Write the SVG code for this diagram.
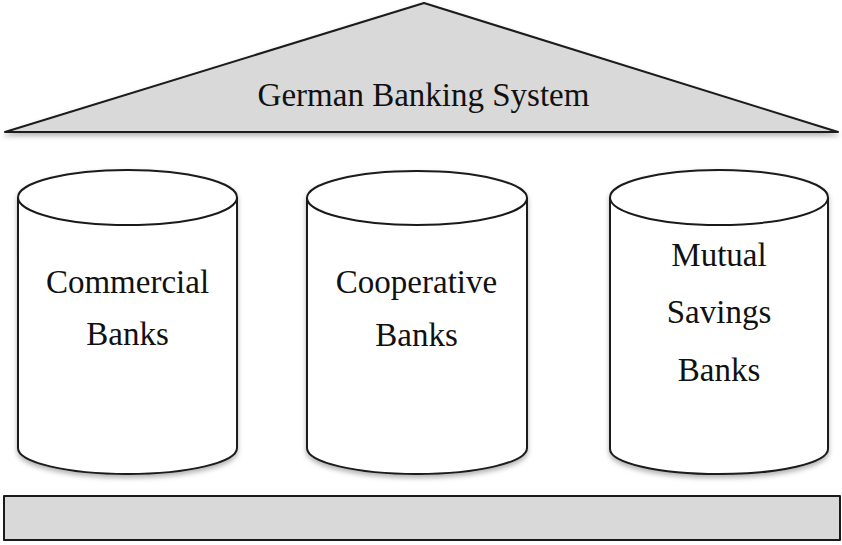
<svg xmlns="http://www.w3.org/2000/svg" width="842" height="545" viewBox="0 0 842 545">
<defs>
<filter id="sh" x="-10%" y="-10%" width="120%" height="130%">
<feDropShadow dx="0" dy="3" stdDeviation="2.5" flood-color="#000" flood-opacity="0.3"/>
</filter>
</defs>
<style>
.shape{stroke:#1a1a1a;stroke-width:2;stroke-linejoin:round}
.gray{fill:#d9d9d9}
.white{fill:#ffffff}
.lbl{font-family:"Liberation Serif","Times New Roman",serif;font-size:33px;fill:#111;text-anchor:middle}
</style>
<rect width="842" height="545" fill="#fff"/>
<g id="roof">
<polygon class="shape gray" filter="url(#sh)" points="5,132 424,3 838,132"/>
<text class="lbl" x="423.5" y="106">German Banking System</text>
</g>
<g id="commercial">
<path class="shape white" filter="url(#sh)" d="M18,197.5 A109.5,27.5 0 0 1 237,197.5 L237,448 A109.5,26 0 0 1 18,448 Z"/>
<path class="shape" fill="none" d="M18,197.5 A109.5,27.5 0 0 0 237,197.5"/>
<text class="lbl" x="127.5" y="293">Commercial</text>
<text class="lbl" x="127.5" y="345">Banks</text>
</g>
<g id="cooperative">
<path class="shape white" filter="url(#sh)" d="M307,198 A110,27 0 0 1 527,198 L527,448 A110,26 0 0 1 307,448 Z"/>
<path class="shape" fill="none" d="M307,198 A110,27 0 0 0 527,198"/>
<text class="lbl" x="416.5" y="293">Cooperative</text>
<text class="lbl" x="416.5" y="346">Banks</text>
</g>
<g id="mutual">
<path class="shape white" filter="url(#sh)" d="M610,197.5 A109,27.5 0 0 1 828,197.5 L828,449 A109,25 0 0 1 610,449 Z"/>
<path class="shape" fill="none" d="M610,197.5 A109,27.5 0 0 0 828,197.5"/>
<text class="lbl" x="719" y="266">Mutual</text>
<text class="lbl" x="719" y="323">Savings</text>
<text class="lbl" x="719" y="381">Banks</text>
</g>
<g id="base">
<rect class="shape gray" x="4" y="496" width="836" height="44"/>
</g>
<g id="connectors"></g>
</svg>
